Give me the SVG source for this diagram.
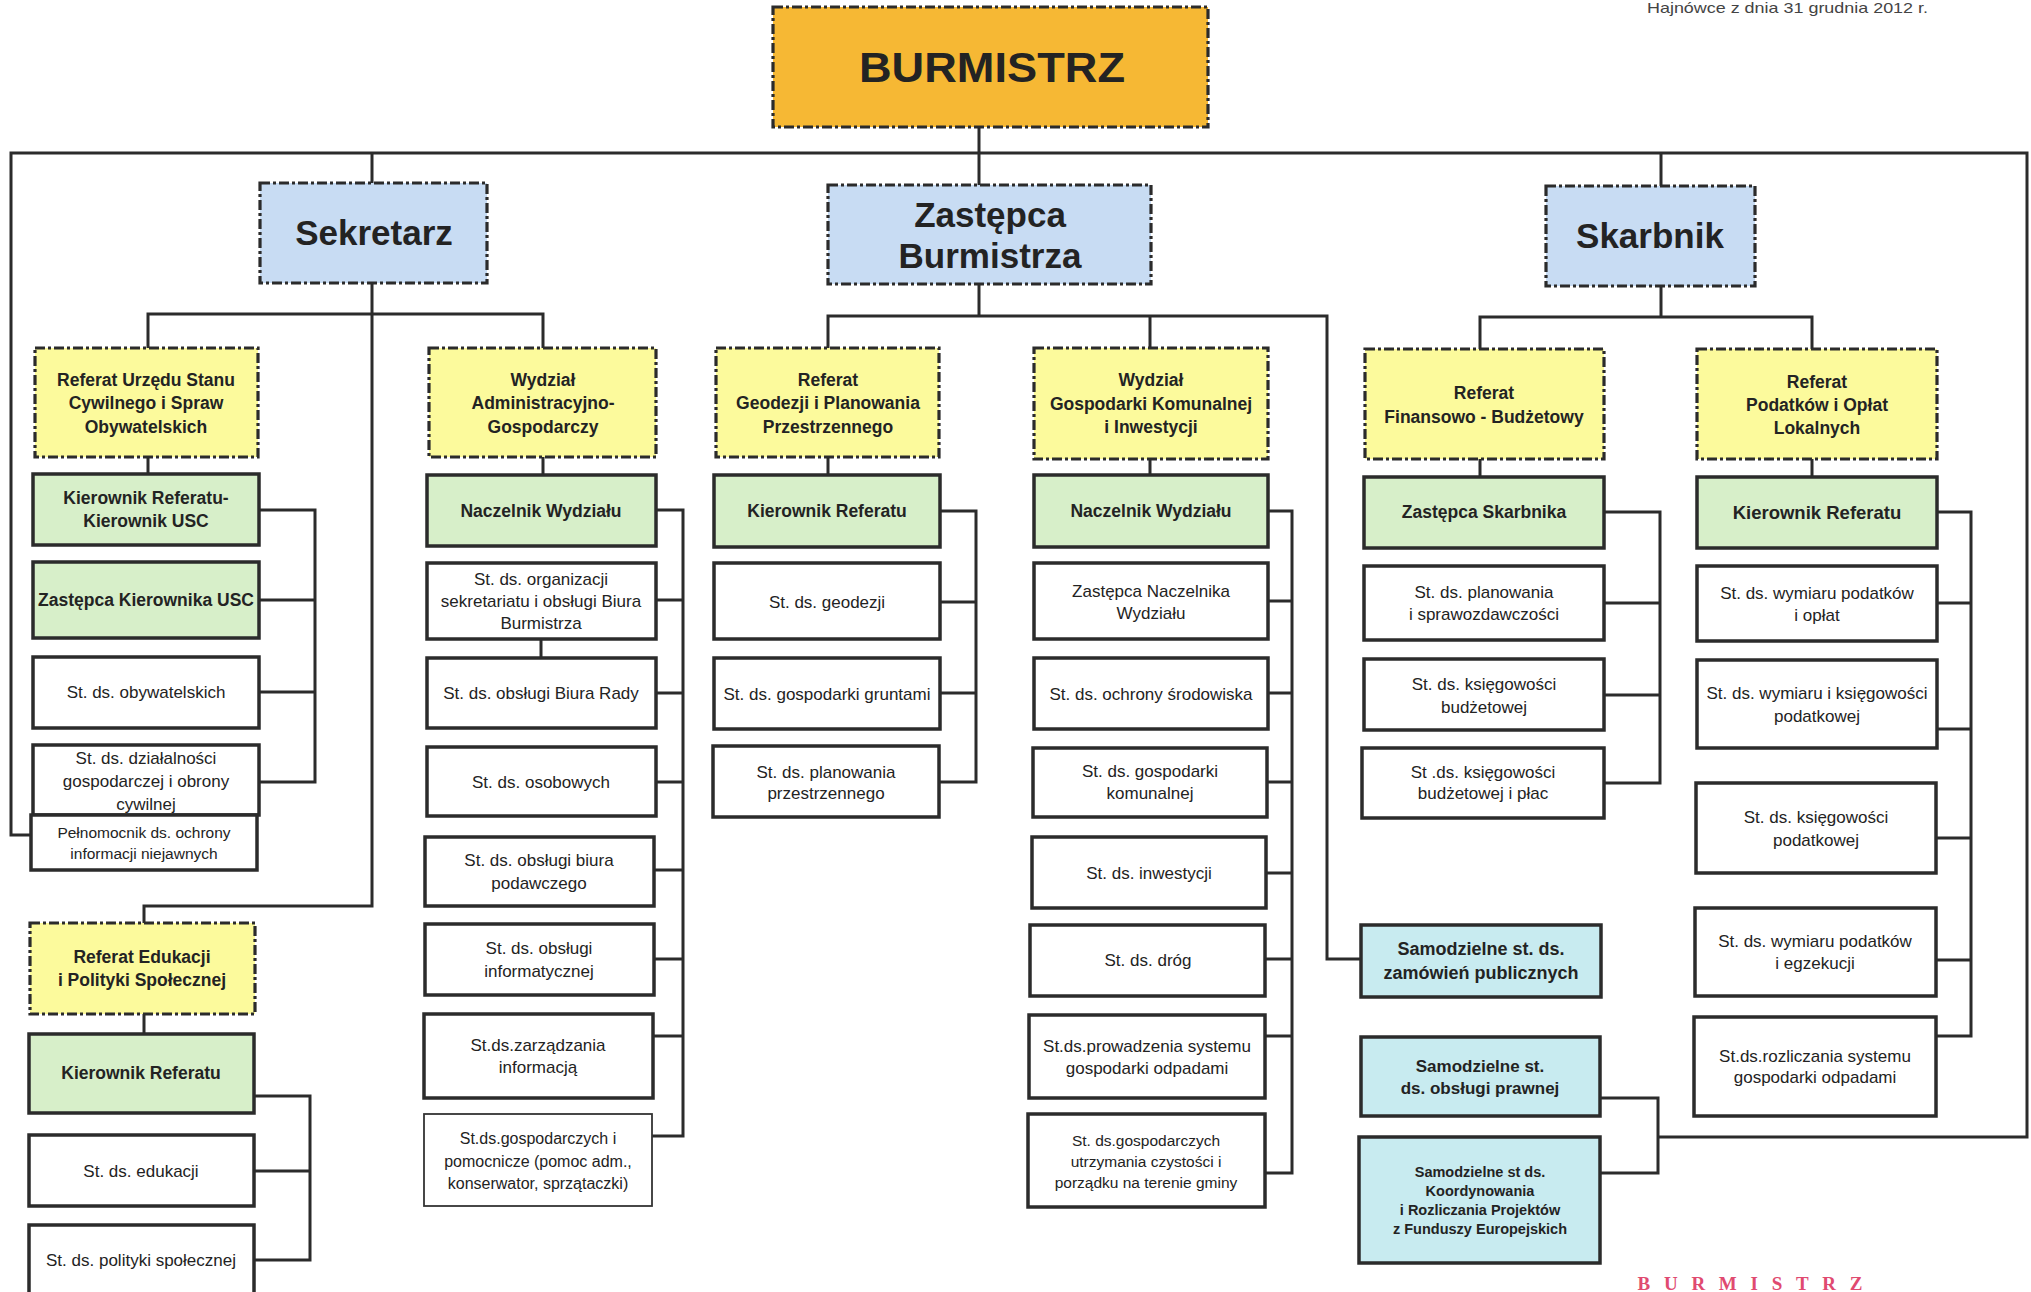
<svg xmlns="http://www.w3.org/2000/svg" width="2031" height="1292" viewBox="0 0 2031 1292">
<style>
text{font-family:"Liberation Sans",Arial,sans-serif;fill:#232323;text-anchor:middle}
.b{font-weight:bold;font-size:17.5px}
.r{font-size:17px}
.s{font-size:15.5px}
.dash{stroke:#2b2b2b;stroke-width:3.2;stroke-dasharray:10 3 3 3}
.box{stroke:#2b2b2b;stroke-width:3.5}
.thin{stroke:#333;stroke-width:1.8}
.or{fill:#f6b834}
.bl{fill:#c8dcf3}
.ye{fill:#fcfa9c}
.gr{fill:#d7efc9}
.wh{fill:#ffffff}
.cy{fill:#c8ebf0}
.conn path{fill:none;stroke:#2b2b2b;stroke-width:3}
</style>
<rect width="2031" height="1292" fill="#ffffff"/>
<text x="1647" y="13" style="font-size:14.5px;text-anchor:start;fill:#444" textLength="281" lengthAdjust="spacingAndGlyphs">Hajnówce z dnia  31 grudnia 2012 r.</text>

<g id="connectors" class="conn">
<path d="M979 127V185"/>
<path d="M31 835H11V153H2027V1137H1658"/>
<path d="M1600 1098H1658V1173H1600"/>
<path d="M372 153V183"/>
<path d="M1661 153V186"/>
<path d="M372 283V906H144V923"/>
<path d="M148 348V314H543V348"/>
<path d="M979 284V316"/>
<path d="M828 348V316H1327V959H1361"/>
<path d="M1150 316V348"/>
<path d="M1661 286V317"/>
<path d="M1480 349V317H1812V349"/>
<path d="M148 457V474M543 457V475M828 457V475M1150 459V475M1480 459V477M1812 459V477M144 1014V1034M541 639V658"/>
<path d="M259 510H315V782H259M259 600H315M259 692H315"/>
<path d="M656 510H683V1136H652M656 600H683M656 693H683M656 782H683M654 870H683M654 959H683M653 1036H683"/>
<path d="M254 1096H310V1260H254M254 1171H310"/>
<path d="M940 511H976V782H939M940 602H976M940 693H976"/>
<path d="M1268 511H1292V1173H1265M1268 601H1292M1268 693H1292M1267 782H1292M1266 873H1292M1265 959H1292M1265 1036H1292"/>
<path d="M1604 512H1660V783H1604M1604 603H1660M1604 695H1660"/>
<path d="M1937 512H1971V1036H1936M1937 603H1971M1937 729H1971M1936 838H1971M1936 960H1971"/>
</g>

<g id="n-burmistrz"><rect x="773" y="7" width="435" height="120" class="or dash"/>
<text x="992" y="82" style="font-weight:bold;font-size:42px" textLength="266" lengthAdjust="spacingAndGlyphs">BURMISTRZ</text></g>
<g id="n-sekretarz"><rect x="260" y="183" width="227" height="100" class="bl dash"/>
<text x="374" y="245" style="font-weight:bold;font-size:35px">Sekretarz</text></g>
<g id="n-zastepca"><rect x="828" y="185" width="323" height="99" class="bl dash"/>
<text x="990" y="227" style="font-weight:bold;font-size:35px">Zastępca</text>
<text x="990" y="268" style="font-weight:bold;font-size:35px">Burmistrza</text></g>
<g id="n-skarbnik"><rect x="1546" y="186" width="209" height="100" class="bl dash"/>
<text x="1650" y="248" style="font-weight:bold;font-size:35px">Skarbnik</text></g>

<g id="y-usc"><rect x="35" y="348" width="223" height="109" class="ye dash"/>
<text class="b"><tspan x="146" y="386">Referat  Urzędu Stanu</tspan><tspan x="146" y="409">Cywilnego i Spraw</tspan><tspan x="146" y="433">Obywatelskich</tspan></text></g>
<g id="y-adm"><rect x="429" y="348" width="227" height="109" class="ye dash"/>
<text class="b"><tspan x="543" y="386">Wydział</tspan><tspan x="543" y="409">Administracyjno-</tspan><tspan x="543" y="433">Gospodarczy</tspan></text></g>
<g id="y-geo"><rect x="716" y="348" width="223" height="109" class="ye dash"/>
<text class="b"><tspan x="828" y="386">Referat</tspan><tspan x="828" y="409">Geodezji i Planowania</tspan><tspan x="828" y="433">Przestrzennego</tspan></text></g>
<g id="y-gk"><rect x="1034" y="348" width="234" height="111" class="ye dash"/>
<text class="b"><tspan x="1151" y="386">Wydział</tspan><tspan x="1151" y="410">Gospodarki Komunalnej</tspan><tspan x="1151" y="433">i Inwestycji</tspan></text></g>
<g id="y-fin"><rect x="1365" y="349" width="239" height="110" class="ye dash"/>
<text class="b"><tspan x="1484" y="399">Referat</tspan><tspan x="1484" y="423">Finansowo - Budżetowy</tspan></text></g>
<g id="y-pod"><rect x="1697" y="349" width="240" height="110" class="ye dash"/>
<text class="b"><tspan x="1817" y="388">Referat</tspan><tspan x="1817" y="411">Podatków  i Opłat</tspan><tspan x="1817" y="434">Lokalnych</tspan></text></g>
<g id="y-edu"><rect x="30" y="923" width="225" height="91" class="ye dash"/>
<text class="b"><tspan x="142" y="963">Referat  Edukacji</tspan><tspan x="142" y="986">i Polityki Społecznej</tspan></text></g>

<g id="g-usc1"><rect x="33" y="474" width="226" height="71" class="gr box"/>
<text class="b"><tspan x="146" y="504">Kierownik Referatu-</tspan><tspan x="146" y="527">Kierownik USC</tspan></text></g>
<g id="g-usc2"><rect x="33" y="562" width="226" height="76" class="gr box"/>
<text class="b" x="146" y="606">Zastępca Kierownika USC</text></g>
<g id="g-adm"><rect x="427" y="475" width="229" height="71" class="gr box"/>
<text class="b" x="541" y="517">Naczelnik Wydziału</text></g>
<g id="g-geo"><rect x="714" y="475" width="226" height="72" class="gr box"/>
<text class="b" x="827" y="517">Kierownik Referatu</text></g>
<g id="g-gk"><rect x="1034" y="475" width="234" height="72" class="gr box"/>
<text class="b" x="1151" y="517">Naczelnik Wydziału</text></g>
<g id="g-fin"><rect x="1364" y="477" width="240" height="71" class="gr box"/>
<text class="b" x="1484" y="518">Zastępca Skarbnika</text></g>
<g id="g-pod"><rect x="1697" y="477" width="240" height="71" class="gr box"/>
<text class="b" x="1817" y="519" style="font-size:18.5px">Kierownik Referatu</text></g>
<g id="g-edu"><rect x="29" y="1034" width="225" height="79" class="gr box"/>
<text class="b" x="141" y="1079">Kierownik Referatu</text></g>

<g id="w-obyw"><rect x="33" y="657" width="226" height="71" class="wh box"/>
<text class="r" x="146" y="698">St. ds. obywatelskich</text></g>
<g id="w-dzial"><rect x="33" y="745" width="226" height="70" class="wh box"/>
<text class="r"><tspan x="146" y="764">St. ds. działalności</tspan><tspan x="146" y="787">gospodarczej i obrony</tspan><tspan x="146" y="810">cywilnej</tspan></text></g>
<g id="w-peln"><rect x="31" y="815" width="226" height="55" class="wh box"/>
<text class="s"><tspan x="144" y="838">Pełnomocnik ds. ochrony</tspan><tspan x="144" y="859">informacji niejawnych</tspan></text></g>

<g id="w-org"><rect x="427" y="563" width="229" height="76" class="wh box"/>
<text class="r"><tspan x="541" y="585">St. ds. organizacji</tspan><tspan x="541" y="607">sekretariatu i obsługi Biura</tspan><tspan x="541" y="629">Burmistrza</tspan></text></g>
<g id="w-rady"><rect x="427" y="658" width="229" height="70" class="wh box"/>
<text class="r" x="541" y="699">St. ds. obsługi Biura Rady</text></g>
<g id="w-osob"><rect x="427" y="747" width="229" height="69" class="wh box"/>
<text class="r" x="541" y="788">St. ds. osobowych</text></g>
<g id="w-podaw"><rect x="425" y="837" width="229" height="69" class="wh box"/>
<text class="r"><tspan x="539" y="866">St. ds. obsługi biura</tspan><tspan x="539" y="889">podawczego</tspan></text></g>
<g id="w-inform"><rect x="425" y="924" width="229" height="71" class="wh box"/>
<text class="r"><tspan x="539" y="954">St. ds. obsługi</tspan><tspan x="539" y="977">informatycznej</tspan></text></g>
<g id="w-zarz"><rect x="424" y="1014" width="229" height="84" class="wh box"/>
<text class="r"><tspan x="538" y="1051">St.ds.zarządzania</tspan><tspan x="538" y="1073">informacją</tspan></text></g>
<g id="w-gosp"><rect x="424" y="1114" width="228" height="92" class="wh thin"/>
<text style="font-size:16px"><tspan x="538" y="1144">St.ds.gospodarczych i</tspan><tspan x="538" y="1167">pomocnicze  (pomoc adm.,</tspan><tspan x="538" y="1189">konserwator, sprzątaczki)</tspan></text></g>

<g id="w-eduk"><rect x="29" y="1135" width="225" height="71" class="wh box"/>
<text class="r" x="141" y="1177">St. ds. edukacji</text></g>
<g id="w-polit"><rect x="29" y="1225" width="225" height="85" class="wh box"/>
<text class="r" x="141" y="1266">St. ds. polityki społecznej</text></g>

<g id="w-geod"><rect x="714" y="563" width="226" height="76" class="wh box"/>
<text class="r" x="827" y="608">St. ds. geodezji</text></g>
<g id="w-grunt"><rect x="714" y="658" width="226" height="71" class="wh box"/>
<text class="r" x="827" y="700">St. ds. gospodarki gruntami</text></g>
<g id="w-plan"><rect x="713" y="746" width="226" height="71" class="wh box"/>
<text class="r"><tspan x="826" y="778">St. ds. planowania</tspan><tspan x="826" y="799">przestrzennego</tspan></text></g>

<g id="w-zastnacz"><rect x="1034" y="563" width="234" height="76" class="wh box"/>
<text class="r"><tspan x="1151" y="597">Zastępca Naczelnika</tspan><tspan x="1151" y="619">Wydziału</tspan></text></g>
<g id="w-ochr"><rect x="1034" y="658" width="234" height="71" class="wh box"/>
<text class="r" x="1151" y="700">St. ds. ochrony środowiska</text></g>
<g id="w-gkom"><rect x="1033" y="748" width="234" height="69" class="wh box"/>
<text class="r"><tspan x="1150" y="777">St. ds. gospodarki</tspan><tspan x="1150" y="799">komunalnej</tspan></text></g>
<g id="w-inw"><rect x="1032" y="837" width="234" height="71" class="wh box"/>
<text class="r" x="1149" y="879">St. ds. inwestycji</text></g>
<g id="w-drog"><rect x="1030" y="925" width="235" height="71" class="wh box"/>
<text class="r" x="1148" y="966">St. ds. dróg</text></g>
<g id="w-prow"><rect x="1029" y="1015" width="236" height="83" class="wh box"/>
<text class="r"><tspan x="1147" y="1052">St.ds.prowadzenia systemu</tspan><tspan x="1147" y="1074">gospodarki odpadami</tspan></text></g>
<g id="w-utrz"><rect x="1028" y="1114" width="237" height="93" class="wh box"/>
<text class="s"><tspan x="1146" y="1146">St. ds.gospodarczych</tspan><tspan x="1146" y="1167">utrzymania czystości i</tspan><tspan x="1146" y="1188">porządku na terenie gminy</tspan></text></g>

<g id="w-finplan"><rect x="1364" y="566" width="240" height="74" class="wh box"/>
<text class="r"><tspan x="1484" y="598">St. ds. planowania</tspan><tspan x="1484" y="620">i sprawozdawczości</tspan></text></g>
<g id="w-kb"><rect x="1364" y="659" width="240" height="71" class="wh box"/>
<text class="r"><tspan x="1484" y="690">St. ds. księgowości</tspan><tspan x="1484" y="713">budżetowej</tspan></text></g>
<g id="w-kbp"><rect x="1362" y="748" width="242" height="70" class="wh box"/>
<text class="r"><tspan x="1483" y="778">St .ds. księgowości</tspan><tspan x="1483" y="799">budżetowej i płac</tspan></text></g>

<g id="w-wp"><rect x="1697" y="566" width="240" height="75" class="wh box"/>
<text class="r"><tspan x="1817" y="599">St. ds. wymiaru podatków</tspan><tspan x="1817" y="621">i opłat</tspan></text></g>
<g id="w-wik"><rect x="1697" y="660" width="240" height="88" class="wh box"/>
<text class="r"><tspan x="1817" y="699">St. ds. wymiaru i księgowości</tspan><tspan x="1817" y="722">podatkowej</tspan></text></g>
<g id="w-kp"><rect x="1696" y="783" width="240" height="90" class="wh box"/>
<text class="r"><tspan x="1816" y="823">St. ds. księgowości</tspan><tspan x="1816" y="846">podatkowej</tspan></text></g>
<g id="w-we"><rect x="1695" y="908" width="241" height="88" class="wh box"/>
<text class="r"><tspan x="1815" y="947">St. ds.   wymiaru podatków</tspan><tspan x="1815" y="969">i egzekucji</tspan></text></g>
<g id="w-roz"><rect x="1694" y="1017" width="242" height="99" class="wh box"/>
<text class="r"><tspan x="1815" y="1062">St.ds.rozliczania  systemu</tspan><tspan x="1815" y="1083">gospodarki odpadami</tspan></text></g>

<g id="c-zam"><rect x="1361" y="925" width="240" height="72" class="cy box"/>
<text class="b" style="font-size:18px"><tspan x="1481" y="955">Samodzielne st. ds.</tspan><tspan x="1481" y="979">zamówień publicznych</tspan></text></g>
<g id="c-praw"><rect x="1361" y="1037" width="239" height="79" class="cy box"/>
<text class="b" style="font-size:17px"><tspan x="1480" y="1072">Samodzielne st.</tspan><tspan x="1480" y="1094">ds. obsługi prawnej</tspan></text></g>
<g id="c-koord"><rect x="1359" y="1137" width="241" height="126" class="cy box"/>
<text class="b" style="font-size:14.5px"><tspan x="1480" y="1177">Samodzielne st ds.</tspan><tspan x="1480" y="1196">Koordynowania</tspan><tspan x="1480" y="1215">i Rozliczania Projektów</tspan><tspan x="1480" y="1234">z Funduszy Europejskich</tspan></text></g>

<text x="1750" y="1290" style="font-family:'Liberation Serif',serif;font-weight:bold;font-size:19px;fill:#e04a70" textLength="225" lengthAdjust="spacing">BURMISTRZ</text>
</svg>
